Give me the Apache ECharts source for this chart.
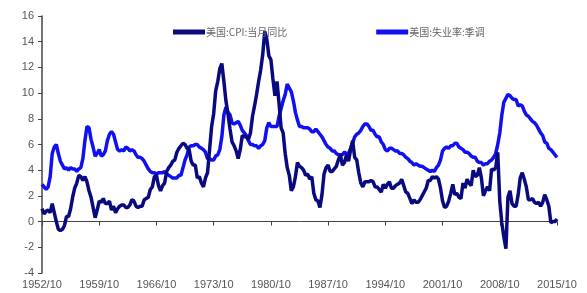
<!DOCTYPE html>
<html>
<head>
<meta charset="utf-8">
<script src="https://cdn.jsdelivr.net/npm/echarts@6/dist/echarts.min.js"></script>
<style>
html, body { margin: 0; padding: 0; background: #fff; }
#chart { width: 587px; height: 293px; }
</style>
</head>
<body>
<div id="chart"></div>
<script>
// quarterly points, 1952/10 .. 2015/10
var cpi = [
	1.0,
	0.6, 0.8, 0.9, 0.7,
	1.4, 0.7, 0.0, -0.6,
	-0.7, -0.6, -0.3, 0.4,
	0.4, 1.0, 1.9, 2.6,
	3.0, 3.6, 3.5, 3.2,
	3.5, 3.1, 2.4, 1.9,
	1.1, 0.3, 0.9, 1.6,
	1.5, 1.8, 1.4, 1.4,
	1.6, 0.9, 1.2, 0.7,
	1.0, 1.2, 1.3, 1.3,
	1.1, 1.1, 1.3, 1.7,
	1.6, 1.2, 1.1, 1.2,
	1.2, 1.7, 1.8, 1.9,
	2.5, 2.7, 3.5, 3.6,
	2.8, 2.4, 2.8, 3.0,
	3.9, 4.2, 4.4, 4.7,
	4.8, 5.4, 5.7, 5.9,
	6.1, 6.0, 5.7, 5.6,
	4.7, 4.4, 4.4, 3.4,
	3.5, 3.0, 2.7, 3.4,
	3.8, 5.6, 7.4, 8.4,
	10.2, 10.9, 11.9, 12.3,
	10.9, 9.4, 8.4, 7.2,
	6.2, 5.9, 5.5, 4.9,
	5.6, 6.7, 6.6, 6.6,
	6.4, 6.9, 8.2, 9.0,
	9.9, 10.9, 11.8, 13.0,
	14.8, 14.2, 12.9, 12.6,
	11.1, 9.8, 10.9, 9.2,
	7.3, 6.9, 5.3, 4.2,
	3.6, 2.4, 2.7, 3.5,
	4.6, 4.3, 4.2, 4.0,
	3.6, 3.7, 3.3, 3.5,
	2.2, 1.7, 1.6, 1.1,
	2.1, 3.7, 4.2, 4.4,
	3.9, 3.9, 4.1, 4.3,
	4.8, 5.2, 4.4, 4.6,
	5.2, 4.7, 5.6, 6.3,
	5.0, 4.8, 3.8, 3.0,
	2.7, 3.1, 3.1, 3.1,
	3.2, 3.1, 2.7, 2.7,
	2.5, 2.3, 2.9, 2.6,
	2.9, 3.1, 2.6, 2.6,
	2.8, 2.9, 3.0, 3.3,
	2.8, 2.3, 2.2, 1.8,
	1.4, 1.7, 1.5, 1.5,
	1.7, 2.0, 2.3, 2.6,
	3.2, 3.2, 3.5, 3.4,
	3.5, 3.3, 2.6, 1.6,
	1.1, 1.2, 1.6, 2.2,
	2.9, 2.1, 2.2, 1.9,
	1.8, 3.0, 2.6, 3.3,
	3.0, 2.8, 4.0, 3.5,
	3.6, 4.2, 3.4, 2.0,
	2.4, 2.7, 2.4, 4.1,
	4.0, 4.2, 5.4, 1.6,
	-0.1, -1.2, -2.1, 1.9,
	2.4, 1.4, 1.2, 1.2,
	2.1, 3.4, 3.8, 3.3,
	2.7, 1.7, 1.7, 1.8,
	1.5, 1.4, 1.5, 1.2,
	1.5, 2.1, 1.7, 1.2,
	-0.1, 0.0, 0.0, 0.2
];
var unemp = [
	2.9,
	2.7, 2.5, 2.7, 3.5,
	5.3, 5.8, 6.0, 5.3,
	4.7, 4.4, 4.1, 4.2,
	4.0, 4.2, 4.1, 4.1,
	3.9, 4.1, 4.2, 4.9,
	6.3, 7.4, 7.3, 6.4,
	5.8, 5.1, 5.3, 5.6,
	5.1, 5.2, 5.5, 6.3,
	6.8, 7.0, 6.8, 6.2,
	5.6, 5.5, 5.6, 5.5,
	5.8, 5.7, 5.5, 5.6,
	5.5, 5.2, 5.0, 5.0,
	4.9, 4.7, 4.4, 4.1,
	3.9, 3.8, 3.8, 3.7,
	3.8, 3.8, 3.8, 3.9,
	3.7, 3.6, 3.5, 3.4,
	3.4, 3.4, 3.6, 3.6,
	4.2, 4.8, 5.2, 5.8,
	5.9, 5.9, 6.0, 6.0,
	5.8, 5.7, 5.6, 5.4,
	4.9, 4.9, 4.8, 4.8,
	5.1, 5.2, 5.6, 6.6,
	8.3, 8.9, 8.5, 8.3,
	7.7, 7.6, 7.7, 7.8,
	7.5, 7.1, 6.9, 6.7,
	6.3, 6.0, 6.0, 5.9,
	5.9, 5.7, 5.9, 6.0,
	6.3, 7.3, 7.7, 7.4,
	7.4, 7.4, 7.4, 8.2,
	8.8, 9.4, 9.9, 10.7,
	10.4, 10.1, 9.4, 8.5,
	7.9, 7.4, 7.4, 7.3,
	7.3, 7.3, 7.2, 7.0,
	7.0, 7.2, 7.0, 6.8,
	6.6, 6.3, 6.0, 5.8,
	5.7, 5.5, 5.5, 5.3,
	5.2, 5.2, 5.2, 5.4,
	5.3, 5.3, 5.7, 6.1,
	6.6, 6.8, 6.9, 7.1,
	7.4, 7.6, 7.6, 7.4,
	7.1, 7.1, 6.8, 6.6,
	6.6, 6.2, 6.0, 5.6,
	5.5, 5.7, 5.7, 5.6,
	5.5, 5.5, 5.3, 5.3,
	5.2, 5.0, 4.9, 4.7,
	4.6, 4.4, 4.5, 4.4,
	4.3, 4.3, 4.2, 4.1,
	4.0, 3.9, 4.0, 3.9,
	4.2, 4.4, 4.8, 5.5,
	5.7, 5.8, 5.7, 5.9,
	5.9, 6.1, 6.1, 5.8,
	5.7, 5.6, 5.4, 5.4,
	5.3, 5.1, 5.0, 5.0,
	4.7, 4.6, 4.6, 4.4,
	4.5, 4.5, 4.7, 4.8,
	5.0, 5.3, 6.0, 6.9,
	8.3, 9.3, 9.6, 9.9,
	9.8, 9.6, 9.5, 9.5,
	9.0, 9.1, 9.0, 8.6,
	8.3, 8.2, 8.0, 7.8,
	7.7, 7.5, 7.2, 6.9,
	6.7, 6.2, 6.1, 5.7,
	5.6, 5.4, 5.2, 5.0
];
var seriesNames = ['美国:CPI:当月同比', '美国:失业率:季调'];

// category labels yyyy/mm, quarterly
var dates = [];
for (var i = 0; i < cpi.length; i++) {
	var m = 9 + i * 3;
	var y = 1952 + Math.floor(m / 12);
	var mm = (m % 12) + 1;
	dates.push(y + '/' + (mm < 10 ? '0' + mm : mm));
}

var chart = echarts.init(document.getElementById('chart'));
var axisFont = {
	fontFamily: 'Liberation Sans',
	fontSize: 11,
	color: '#555'
};

chart.setOption({
	animation: false,
	grid: {
		left: 42,
		right: 30,
		top: 16,
		bottom: 20
	},
	legend: {
		data: [seriesNames[0], seriesNames[1]],
		left: 168,
		top: 22,
		icon: 'rect',
		itemWidth: 32,
		itemHeight: 5,
		itemGap: 89,
		textStyle: {
			fontFamily: 'Noto Sans CJK SC',
			fontSize: 10,
			color: '#666',
			padding: [0, 0, 0, -4]
		}
	},
	xAxis: {
		type: 'category',
		data: dates,
		boundaryGap: false,
		axisLine: {
			onZero: true,
			lineStyle: { color: '#444', width: 1 }
		},
		axisTick: {
			interval: 27,
			length: 4,
			lineStyle: { color: '#444' }
		},
		axisLabel: Object.assign({
			interval: 27,
			margin: 6,
			showMaxLabel: true
		}, axisFont),
		splitLine: { show: false }
	},
	yAxis: {
		type: 'value',
		min: -4,
		max: 16,
		interval: 2,
		axisLine: {
			show: true,
			lineStyle: { color: '#444', width: 1.5 }
		},
		axisTick: {
			show: true,
			length: 4,
			lineStyle: { color: '#444' }
		},
		axisLabel: Object.assign({ margin: 8 }, axisFont),
		splitLine: { show: false }
	},
	series: [{
		name: seriesNames[1],
		type: 'line',
		data: unemp,
		symbol: 'none',
		z: 2,
		lineStyle: { color: '#1010f0', width: 3.5 },
		itemStyle: { color: '#1010f0' }
	}, {
		name: seriesNames[0],
		type: 'line',
		data: cpi,
		symbol: 'none',
		z: 3,
		lineStyle: { color: '#0a0a80', width: 3.5 },
		itemStyle: { color: '#0a0a80' }
	}]
});
</script>
</body>
</html>
